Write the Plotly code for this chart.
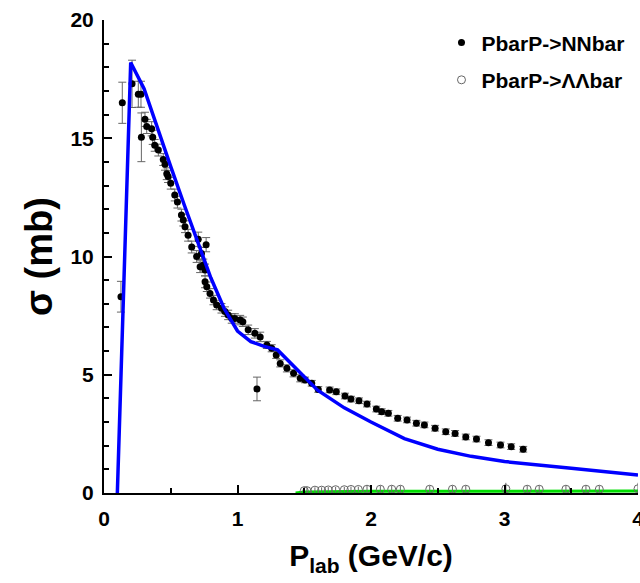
import plotly.graph_objects as go

# ---- data ----
nn_x = [0.127, 0.137, 0.21, 0.257, 0.277, 0.28, 0.307, 0.32, 0.357, 0.365,
        0.38, 0.407, 0.444, 0.457, 0.47, 0.48, 0.50, 0.53, 0.55, 0.58,
        0.594, 0.607, 0.63, 0.657, 0.694, 0.706, 0.72, 0.73, 0.744, 0.757,
        0.757, 0.765, 0.77, 0.794, 0.82, 0.844, 0.88, 0.906, 0.93, 0.957,
        0.98, 1.02, 1.04, 1.08, 1.13, 1.146, 1.17, 1.22, 1.256, 1.29,
        1.32, 1.37, 1.42, 1.47, 1.506, 1.556, 1.605, 1.69, 1.74, 1.805,
        1.85, 1.91, 1.97, 2.04, 2.08, 2.13, 2.2, 2.27, 2.34, 2.4,
        2.48, 2.56, 2.63, 2.71, 2.79, 2.88, 2.97, 3.05, 3.14]
nn_y = [8.3, 16.5, 17.3, 16.86, 16.86, 15.04, 15.8, 15.5, 15.4, 15.04,
        14.7, 14.5, 14.1, 13.9, 13.5, 13.38, 13.1, 12.6, 12.3, 11.75,
        11.54, 11.26, 10.9, 10.4, 10.0, 10.73, 9.57, 10.13, 9.64, 9.43,
        8.93, 10.5, 8.72, 8.44, 8.16, 7.95, 7.81, 7.67, 7.53, 7.38,
        7.38, 7.31, 7.24, 6.9, 6.75, 4.4, 6.6, 6.26, 6.12, 5.84,
        5.48, 5.27, 5.06, 4.85, 4.78, 4.64, 4.38, 4.36, 4.28, 4.1,
        3.97, 3.9, 3.76, 3.55, 3.44, 3.37, 3.16, 3.09, 2.95, 2.88,
        2.74, 2.59, 2.52, 2.37, 2.28, 2.13, 2.03, 1.96, 1.85]
nn_err = [0.65, 0.87, 1.0, 0.55, 0.55, 1.03, 0.3, 0.3, 0.3, 0.3,
          0.25, 0.25, 0.25, 0.25, 0.25, 0.25, 0.25, 0.25, 0.25, 0.25,
          0.25, 0.25, 0.25, 0.25, 0.25, 0.3, 0.25, 0.25, 0.25, 0.25,
          0.25, 0.3, 0.2, 0.2, 0.2, 0.2, 0.2, 0.2, 0.2, 0.2,
          0.2, 0.2, 0.2, 0.2, 0.2, 0.5, 0.2, 0.15, 0.15, 0.15,
          0.15, 0.15, 0.15, 0.15, 0.12, 0.12, 0.12, 0.12, 0.12, 0.12,
          0.12, 0.12, 0.12, 0.12, 0.12, 0.12, 0.12, 0.12, 0.12, 0.12,
          0.12, 0.12, 0.12, 0.12, 0.12, 0.12, 0.12, 0.12, 0.12]

ll_x = [1.50, 1.52, 1.58, 1.63, 1.68, 1.735, 1.80, 1.85, 1.905, 1.97,
        2.07, 2.155, 2.22, 2.44, 2.61, 2.71, 3.01, 3.17, 3.26, 3.46,
        3.61, 3.71, 4.0]
ll_y = [0.1, 0.1, 0.12, 0.12, 0.13, 0.14, 0.14, 0.15, 0.15, 0.16,
        0.16, 0.16, 0.16, 0.16, 0.16, 0.16, 0.18, 0.16, 0.16, 0.16,
        0.16, 0.16, 0.18]
ll_err = [0.12, 0.12, 0.12, 0.12, 0.12, 0.12, 0.12, 0.12, 0.12, 0.15,
          0.15, 0.15, 0.15, 0.15, 0.15, 0.15, 0.25, 0.15, 0.15, 0.15,
          0.15, 0.15, 0.25]

theory_nn_x = [0.1, 0.2, 0.3, 0.4, 0.5, 0.6, 0.7, 0.8, 0.9, 1.0,
               1.1, 1.2, 1.3, 1.4, 1.5, 1.6, 1.8, 2.0, 2.25, 2.5,
               2.75, 3.0, 3.5, 4.0]
theory_nn_y = [0.0, 18.2, 17.1, 15.4, 13.8, 12.2, 10.6, 9.1, 7.8, 6.85,
               6.4, 6.2, 6.05, 5.5, 4.9, 4.35, 3.6, 3.0, 2.3, 1.85,
               1.55, 1.33, 1.05, 0.76]

theory_ll_x = [1.435, 1.5, 2.0, 2.5, 3.0, 3.5, 4.0]
theory_ll_y = [0.0, 0.04, 0.07, 0.08, 0.08, 0.08, 0.08]

FONT = "Liberation Sans, Arial, sans-serif"

fig = go.Figure()

fig.add_trace(go.Scatter(
    x=theory_ll_x, y=theory_ll_y, mode="lines",
    line=dict(color="#00dd00", width=3), showlegend=False, hoverinfo="skip"))

fig.add_trace(go.Scatter(
    x=ll_x, y=ll_y, mode="markers", name="PbarP->ΛΛbar",
    marker=dict(symbol="circle-open", size=8, color="#666666", line=dict(width=1)),
    error_y=dict(type="data", array=ll_err, color="#666666", thickness=1, width=0),
    legendgroup="b", legendrank=2))

fig.add_trace(go.Scatter(
    x=nn_x, y=nn_y, mode="markers", name="PbarP->NNbar",
    marker=dict(symbol="circle", size=7, color="black"),
    error_y=dict(type="data", array=nn_err, color="#666666", thickness=1, width=4),
    legendgroup="a", legendrank=1))

fig.add_trace(go.Scatter(
    x=theory_nn_x, y=theory_nn_y, mode="lines",
    line=dict(color="#0000ff", width=3.5), showlegend=False, hoverinfo="skip"))

fig.update_layout(
    width=640, height=583,
    margin=dict(l=104, r=2, t=20, b=90, autoexpand=False),
    paper_bgcolor="white", plot_bgcolor="white",
    font=dict(family=FONT, color="black"),
    legend=dict(x=0.632, y=0.995, xanchor="left", yanchor="top",
                traceorder="grouped", tracegroupgap=7,
                font=dict(family=FONT, size=21, weight="bold", color="black"),
                bgcolor="rgba(0,0,0,0)"),
)

fig.update_xaxes(
    range=[0, 4], showgrid=False, zeroline=False, automargin=False,
    showline=True, linecolor="black", linewidth=2,
    ticks="inside", ticklen=8, tickwidth=2, tickcolor="black",
    tickvals=[0, 1, 2, 3, 4], ticktext=["0", "1", "2", "3", "4"],
    minor=dict(tickvals=[0.5, 1.5, 2.5, 3.5], ticks="inside", ticklen=5, tickwidth=2, tickcolor="black"),
    tickfont=dict(family=FONT, size=21, weight="bold"),
    ticklabelstandoff=6, ticklabeloverflow="allow",
    title=dict(text="P<sub>lab</sub> (GeV/c)", font=dict(family=FONT, size=30, weight="bold"), standoff=16),
)
fig.update_yaxes(
    range=[0, 20], showgrid=False, zeroline=False, automargin=False,
    showline=True, linecolor="black", linewidth=2,
    ticks="inside", ticklen=8, tickwidth=2, tickcolor="black",
    tickvals=[0, 5, 10, 15, 20],
    minor=dict(dtick=1, ticks="inside", ticklen=5, tickwidth=2, tickcolor="black"),
    tickfont=dict(family=FONT, size=21, weight="bold"),
    ticklabelstandoff=4,
    title=dict(text="σ (mb)", font=dict(family=FONT, size=38, weight="bold"), standoff=6),
)

fig.write_html("out.html")
